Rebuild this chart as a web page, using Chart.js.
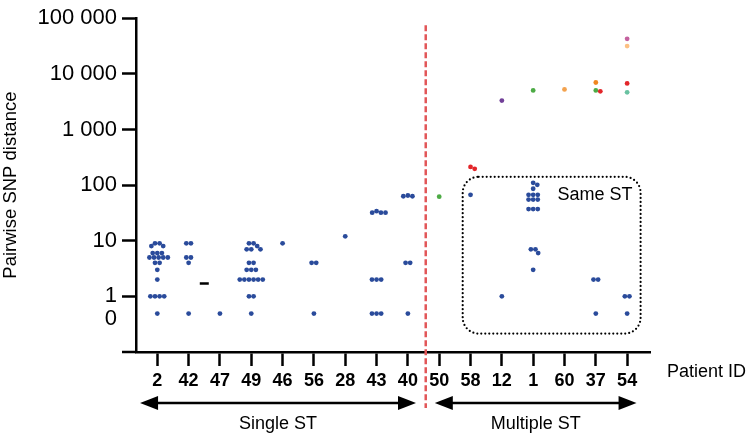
<!DOCTYPE html>
<html>
<head>
<meta charset="utf-8">
<script src="https://cdn.jsdelivr.net/npm/chart.js@4.4.1/dist/chart.umd.min.js"></script>
<style>
  html, body { margin: 0; padding: 0; background: #fff; }
  #wrap { width: 752px; height: 436px; }
</style>
</head>
<body>
<div id="wrap"><canvas id="chartSnp" width="752" height="436"></canvas></div>
<script>
// ================================
// DATOS
// ================================
const patients = ["2", "42", "47", "49", "46", "56", "28", "43", "40", "50", "58", "12", "1", "60", "37", "54"];

// pairwise SNP distances, same ST (blue), one list per patient
const sameStValues = [
    [9, 9, 8, 8, 6, 6, 6, 5, 5, 5, 5, 5, 4, 4, 3, 2, 1, 1, 1, 1, 0],
    [9, 9, 5, 5, 4, 0],
    [0],
    [9, 9, 8, 7, 7, 7, 4, 4, 3, 3, 3, 2, 2, 2, 2, 2, 2, 1, 1, 0],
    [9],
    [4, 4, 0],
    [12],
    [34, 32, 32, 32, 2, 2, 2, 0, 0, 0],
    [65, 63, 63, 4, 4, 0],
    [],
    [67],
    [1],
    [110, 101, 86, 67, 67, 67, 55, 55, 55, 37, 37, 37, 7, 7, 6, 3],
    [],
    [2, 2, 0],
    [1, 1, 0]
];

// distances between different ST (coloured points)
const otherPatients = ["50", "58", "58", "12", "1", "60", "37", "37", "37", "54", "54", "54", "54"];
const otherValues = [62, 212, 196, 3300, 5040, 5250, 6980, 5040, 4840, 42500, 31600, 6710, 4650];
const otherColors = ["#4dab45", "#e3262a", "#e3262a", "#713f98", "#4dab45", "#f3a24e",
    "#f0861f", "#4dab45", "#e3262a", "#c4619f", "#fcc083", "#e3262a", "#69c2a1"];

// small black dash between 42 and 47
const dashX = [1.5];
const dashY = [1.7];

const yTicks = [1, 10, 100, 1000, 10000, 100000];
const ZERO_TICK = 0.4;   // where the "0" label sits
const ZERO_POS = 0.49;   // where zero distances are drawn

const BLUE = "#2a4b9b";
const FONT = "'Liberation Sans', Arial, Helvetica, sans-serif";
Chart.defaults.font.family = FONT;
Chart.defaults.color = "#000";

function fmt(v) {
    return String(v).replace(/\B(?=(\d{3})+(?!\d))/g, " ");
}

const bluePoints = [];
sameStValues.forEach((vals, i) => {
    vals.forEach(v => bluePoints.push({ x: i, y: v === 0 ? ZERO_POS : v, cat: i }));
});
const otherPoints = otherValues.map((v, k) => {
    const i = patients.indexOf(otherPatients[k]);
    return { x: i, y: v, cat: i };
});

// ================================
// ANOTACIONES (flechas, caja, linea roja)
// ================================
const extras = {
    id: "extras",
    afterDraw(chart) {
        const { ctx, chartArea: a, scales: { x, y } } = chart;
        ctx.save();

        // prolongar eje x hacia la izquierda
        ctx.strokeStyle = "#000";
        ctx.lineWidth = 2.5;
        ctx.beginPath();
        ctx.moveTo(a.left - 14, a.bottom);
        ctx.lineTo(a.left, a.bottom);
        ctx.stroke();

        // linea roja discontinua
        const xr = x.getPixelForValue(8.57);
        ctx.strokeStyle = "#e25658";
        ctx.lineWidth = 2.5;
        ctx.setLineDash([6, 3]);
        ctx.beginPath();
        ctx.moveTo(xr, a.top + 7);
        ctx.lineTo(xr, a.bottom + 56);
        ctx.stroke();

        // caja punteada "Same ST"
        const bx1 = x.getPixelForValue(9.75), bx2 = x.getPixelForValue(15.43);
        const by1 = y.getPixelForValue(141), by2 = y.getPixelForValue(0.214);
        ctx.strokeStyle = "#000";
        ctx.lineWidth = 2.2;
        ctx.lineCap = "round";
        ctx.setLineDash([0, 4]);
        ctx.beginPath();
        ctx.roundRect(bx1, by1, bx2 - bx1, by2 - by1, 16);
        ctx.stroke();
        ctx.setLineDash([]);
        ctx.lineCap = "butt";

        ctx.fillStyle = "#000";
        ctx.font = "18px " + FONT;
        ctx.textAlign = "right";
        ctx.textBaseline = "middle";
        ctx.fillText("Same ST", bx2 - 8, by1 + 18);

        // flechas
        const ya = a.bottom + 51;
        function arrow(v1, v2) {
            const p1 = x.getPixelForValue(v1), p2 = x.getPixelForValue(v2);
            const hl = 18, hw = 7;
            ctx.lineWidth = 2.5;
            ctx.beginPath();
            ctx.moveTo(p1 + hl - 2, ya);
            ctx.lineTo(p2 - hl + 2, ya);
            ctx.stroke();
            ctx.beginPath();
            ctx.moveTo(p1, ya);
            ctx.lineTo(p1 + hl, ya - hw);
            ctx.lineTo(p1 + hl, ya + hw);
            ctx.closePath();
            ctx.fill();
            ctx.beginPath();
            ctx.moveTo(p2, ya);
            ctx.lineTo(p2 - hl, ya - hw);
            ctx.lineTo(p2 - hl, ya + hw);
            ctx.closePath();
            ctx.fill();
            return (p1 + p2) / 2;
        }
        const c1 = arrow(-0.55, 8.26);
        const c2 = arrow(8.86, 15.3);
        ctx.textAlign = "center";
        ctx.textBaseline = "alphabetic";
        ctx.fillText("Single ST", c1, a.bottom + 77);
        ctx.fillText("Multiple ST", c2, a.bottom + 77);

        ctx.textAlign = "left";
        ctx.textBaseline = "middle";
        ctx.fillText("Patient ID", a.right + 17, a.bottom + 20);

        ctx.restore();
    }
};

// ================================
// GRAFICO
// ================================
const chart = new Chart(document.getElementById("chartSnp"), {
    type: "scatter",
    data: {
        datasets: [{
            label: "Same ST",
            data: bluePoints,
            backgroundColor: BLUE,
            pointRadius: 2.4,
            pointHoverRadius: 2.4,
            borderWidth: 0
        }, {
            label: "Different ST",
            data: otherPoints,
            backgroundColor: otherColors,
            pointRadius: 2.4,
            pointHoverRadius: 2.4,
            borderWidth: 0
        }, {
            label: "dash",
            data: dashX.map((v, i) => ({ x: v, y: dashY[i] })),
            pointStyle: "line",
            pointRadius: 4.5,
            borderColor: "#000",
            borderWidth: 2.5
        }]
    },
    options: {
        responsive: false,
        animation: false,
        layout: { padding: { top: 13, right: 102, left: 0, bottom: 0 } },
        plugins: { legend: { display: false }, tooltip: { enabled: false } },
        scales: {
            x: {
                type: "linear",
                position: "bottom",
                min: -0.68,
                max: 15.73,
                afterBuildTicks: s => { s.ticks = patients.map((p, i) => ({ value: i })); },
                afterFit: s => { s.height = 84; },
                grid: { drawOnChartArea: false, drawTicks: true, tickLength: 14, tickWidth: 2.5, tickColor: "#000" },
                border: { display: true, color: "#000", width: 2.5 },
                ticks: {
                    autoSkip: false,
                    maxRotation: 0,
                    padding: 4,
                    font: { size: 18, weight: "bold" },
                    callback: v => patients[v] ?? ""
                }
            },
            y: {
                type: "logarithmic",
                min: 0.1,
                max: 100000,
                afterBuildTicks: s => { s.ticks = [ZERO_TICK].concat(yTicks).map(v => ({ value: v })); },
                afterFit: s => { s.width = 136; },
                grid: {
                    drawOnChartArea: false,
                    drawTicks: true,
                    tickLength: 14,
                    tickWidth: 2.5,
                    tickColor: c => (c.tick && c.tick.value < 1) ? "rgba(0,0,0,0)" : "#000"
                },
                border: { display: true, color: "#000", width: 2.5 },
                ticks: {
                    autoSkip: false,
                    padding: 5,
                    font: { size: 22 },
                    callback: v => v === ZERO_TICK ? "0" : fmt(v)
                },
                title: {
                    display: true,
                    text: "Pairwise SNP distance",
                    font: { size: 18.5 },
                    padding: { top: 0, bottom: 0 }
                }
            }
        }
    },
    plugins: [extras]
});

// ================================
// BEESWARM: separar puntos iguales
// ================================
const D = 4.6;
function bestX(y, placed) {
    const cands = [0];
    placed.forEach(p => {
        const dy = Math.abs(p.y - y);
        if (dy < D) {
            const dx = Math.sqrt(D * D - dy * dy);
            cands.push(p.x + dx, p.x - dx);
        }
    });
    cands.sort((a, b) => Math.abs(a) - Math.abs(b) || b - a);
    return cands.find(x => placed.every(p => Math.hypot(p.x - x, p.y - y) >= D - 0.01));
}
function swarm(pts, yScale) {
    const ys = pts.map(p => yScale.getPixelForValue(p.y));
    const order = ys.map((y, i) => i).sort((a, b) => ys[a] - ys[b]);
    const placed = [];
    const off = new Array(pts.length).fill(0);
    let k = 0;
    while (k < order.length) {
        let j = k;
        while (j < order.length && Math.abs(ys[order[j]] - ys[order[k]]) < 0.01) j++;
        const grp = order.slice(k, j);
        const n = grp.length;
        const row = grp.map((g, i) => (i - (n - 1) / 2) * D);
        const yy = ys[grp[0]];
        const ok = row.every(x => placed.every(p => Math.hypot(p.x - x, p.y - yy) >= D - 0.01));
        if (ok) {
            grp.forEach((idx, i) => { off[idx] = row[i]; placed.push({ x: row[i], y: yy }); });
        } else {
            grp.forEach(idx => {
                const x = bestX(yy, placed);
                off[idx] = x;
                placed.push({ x: x, y: yy });
            });
        }
        k = j;
    }
    return off;
}

const xs = chart.scales.x;
const pxPerCat = xs.getPixelForValue(1) - xs.getPixelForValue(0);
const all = bluePoints.concat(otherPoints);
patients.forEach((p, i) => {
    const grp = all.filter(q => q.cat === i);
    const off = swarm(grp, chart.scales.y);
    grp.forEach((q, k) => { q.x = i + off[k] / pxPerCat; });
});
chart.data.datasets[0].data = bluePoints.map(q => ({ x: q.x, y: q.y }));
chart.data.datasets[1].data = otherPoints.map(q => ({ x: q.x, y: q.y }));
chart.update("none");
</script>
</body>
</html>
